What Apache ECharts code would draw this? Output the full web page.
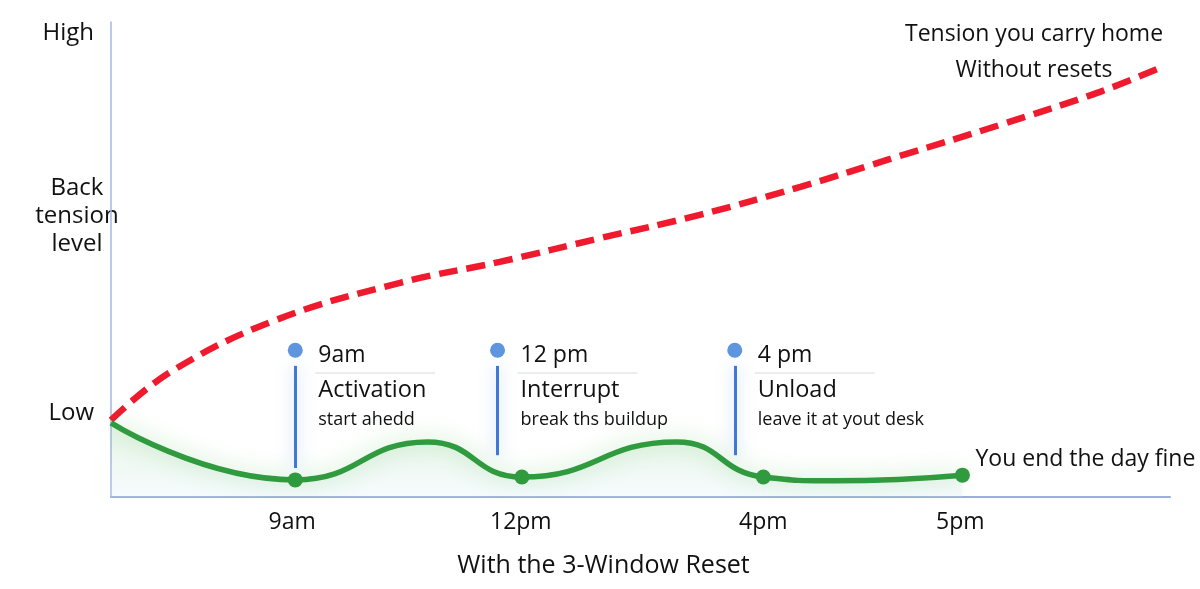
<!DOCTYPE html>
<html>
<head>
<meta charset="utf-8">
<script src="https://cdn.jsdelivr.net/npm/echarts@6/dist/echarts.min.js"></script>
<style>
  html, body { margin: 0; padding: 0; background: #fff; }
  #chart { width: 1200px; height: 589px; }
</style>
</head>
<body>
<div id="chart"></div>
<script>
// ---- data ----
const xTickValues = [17.1, 38.7, 61.6, 80.2];
const xTickLabels = ['9am', '12pm', '4pm', '5pm'];
const yTickValues = [17.7, 97.7];
const yTickLabels = ['Low', 'High'];
const yAxisTitle = 'Back\ntension\nlevel';
const yAxisTitleAt = 59.2;
const xAxisTitle = 'With the 3-Window Reset';

// Without resets (red dashed)
const redX = [0, 5.6, 15.5, 27.3, 36.7, 46.2, 55.6, 65.1, 74.5, 83.9, 93.4, 99.2];
const redY = [16.2, 26.3, 37.2, 45.1, 49.5, 54.5, 59.4, 65.3, 71.8, 78.3, 85.3, 90.5];
const redNote = 'Tension you carry home\nWithout resets';

// With the 3-Window Reset (green)
const greenX = [0, 17.4, 29.9, 38.8, 53.4, 61.6, 68.2, 80.4];
const greenY = [15.6, 3.6, 11.6, 4.2, 11.6, 4.2, 3.4, 4.6];
const greenDotX = [17.4, 38.8, 61.6, 80.4];
const greenNote = 'You end the day fine';

// Reset windows
const annX = [17.4, 36.5, 58.9];
const annDotY = 30.9;
const annLineTop = 27.6;
const annLineBottom = [6.1, 8.8, 8.8];
const annSepY = 26.1;
const annTimes = ['9am', '12 pm', '4 pm'];
const annTitles = ['Activation', 'Interrupt', 'Unload'];
const annDescs = ['start ahedd', 'break ths buildup', 'leave it at yout desk'];

// ---- chart ----
const FONT = '"Open Sans", "Noto Sans", sans-serif';
const TXT = '#111111';
const chart = echarts.init(document.getElementById('chart'), null, { renderer: 'canvas' });

const greenData = greenX.map((x, i) => {
  const item = { value: [x, greenY[i]] };
  if (!greenDotX.includes(x)) item.symbol = 'none';
  if (i === greenX.length - 1) {
    item.label = {
      show: true, formatter: greenNote, position: [20.5, -8.5],
      align: 'left', verticalAlign: 'middle', fontSize: 23, color: TXT, fontFamily: FONT
    };
  }
  return item;
});

const markLines = [];
annX.forEach((x, i) => {
  markLines.push([
    { coord: [x, annLineTop], lineStyle: { color: '#3f78d6', width: 3, type: 'solid',
      shadowColor: 'rgba(90,150,235,0.5)', shadowBlur: 16 } },
    { coord: [x, annLineBottom[i]] }
  ]);
  markLines.push([
    { coord: [x + 1.9, annSepY], lineStyle: { color: '#e4e6ea', width: 1.5, type: 'solid' } },
    { coord: [x + 13.2, annSepY] }
  ]);
});

const option = {
  animation: false,
  backgroundColor: '#ffffff',
  grid: { left: 111, right: 30, top: 22, bottom: 92, containLabel: false, outerBoundsMode: 'none' },
  xAxis: {
    type: 'value', min: 0, max: 100,
    name: xAxisTitle, nameLocation: 'middle', nameGap: 56,
    nameTextStyle: { fontSize: 25, color: TXT, fontFamily: FONT, padding: [0, 74, 0, 0] },
    axisLine: { show: true, lineStyle: { color: '#9eaedc', width: 2 } },
    axisTick: { show: false },
    splitLine: { show: false },
    axisLabel: {
      customValues: xTickValues,
      formatter: v => xTickLabels[xTickValues.indexOf(v)] ?? '',
      fontSize: 23, color: TXT, fontFamily: FONT, margin: 14
    }
  },
  yAxis: {
    type: 'value', min: 0, max: 100,
    axisLine: { show: true, lineStyle: { color: '#a8b6e2', width: 1.5 } },
    axisTick: { show: false },
    splitLine: { show: false },
    axisLabel: {
      customValues: yTickValues,
      formatter: v => yTickLabels[yTickValues.indexOf(v)] ?? '',
      fontSize: 24, color: TXT, fontFamily: FONT, margin: 17
    }
  },
  series: [
    {
      name: 'Without resets', type: 'line', smooth: 0.4,
      data: redX.map((x, i) => [x, redY[i]]),
      symbol: 'none',
      lineStyle: { color: '#f01a2e', width: 6.5, type: [19, 9], cap: 'butt' },
      z: 3
    },
    {
      name: 'With the 3-Window Reset', type: 'line', smooth: 0.5,
      data: greenData,
      symbol: 'circle', symbolSize: 15, showSymbol: true,
      itemStyle: { color: '#2f9a3e', opacity: 1 },
      lineStyle: { color: '#2f9a3e', width: 5.5,
        shadowColor: 'rgba(80,190,80,0.45)', shadowBlur: 22 },
      areaStyle: {
        color: new echarts.graphic.LinearGradient(0, 0, 0, 1, [
          { offset: 0, color: 'rgba(120,200,110,0.25)' },
          { offset: 1, color: 'rgba(205,230,250,0.25)' }
        ])
      },
      z: 4
    },
    {
      name: 'Reset windows', type: 'scatter',
      data: annX.map(x => [x, annDotY]),
      symbol: 'circle', symbolSize: 15,
      itemStyle: { color: '#5e95de', opacity: 1 },
      label: {
        show: true, position: [30.5, -4.5], align: 'left', verticalAlign: 'top',
        formatter: p => `{t|${annTimes[p.dataIndex]}}\n{h|${annTitles[p.dataIndex]}}\n{d|${annDescs[p.dataIndex]}}`,
        rich: {
          t: { fontSize: 23, lineHeight: 34, color: TXT, fontFamily: FONT },
          h: { fontSize: 23.5, lineHeight: 36, color: TXT, fontFamily: FONT },
          d: { fontSize: 18, lineHeight: 24, color: TXT, fontFamily: FONT }
        }
      },
      markLine: { silent: true, symbol: 'none', label: { show: false }, data: markLines },
      z: 5
    },
    {
      name: 'note', type: 'scatter',
      data: [[redX[redX.length - 1], redY[redY.length - 1]]],
      symbolSize: 1, itemStyle: { color: 'rgba(0,0,0,0)', opacity: 1 },
      label: {
        show: true, formatter: redNote, position: [-127, -50],
        align: 'center', verticalAlign: 'top', lineHeight: 36,
        fontSize: 23, color: TXT, fontFamily: FONT
      },
      z: 6
    }
  ]
};
chart.setOption(option);

// y-axis title, placed through the axis scale
const yTitlePos = chart.convertToPixel({ gridIndex: 0 }, [0, yAxisTitleAt]);
chart.setOption({
  graphic: [{
    type: 'text', x: yTitlePos[0] - 34, y: yTitlePos[1], silent: true,
    style: { text: yAxisTitle, fontSize: 24, lineHeight: 28, fontFamily: FONT, fill: TXT,
      align: 'center', verticalAlign: 'middle' }
  }]
});
</script>
</body>
</html>
